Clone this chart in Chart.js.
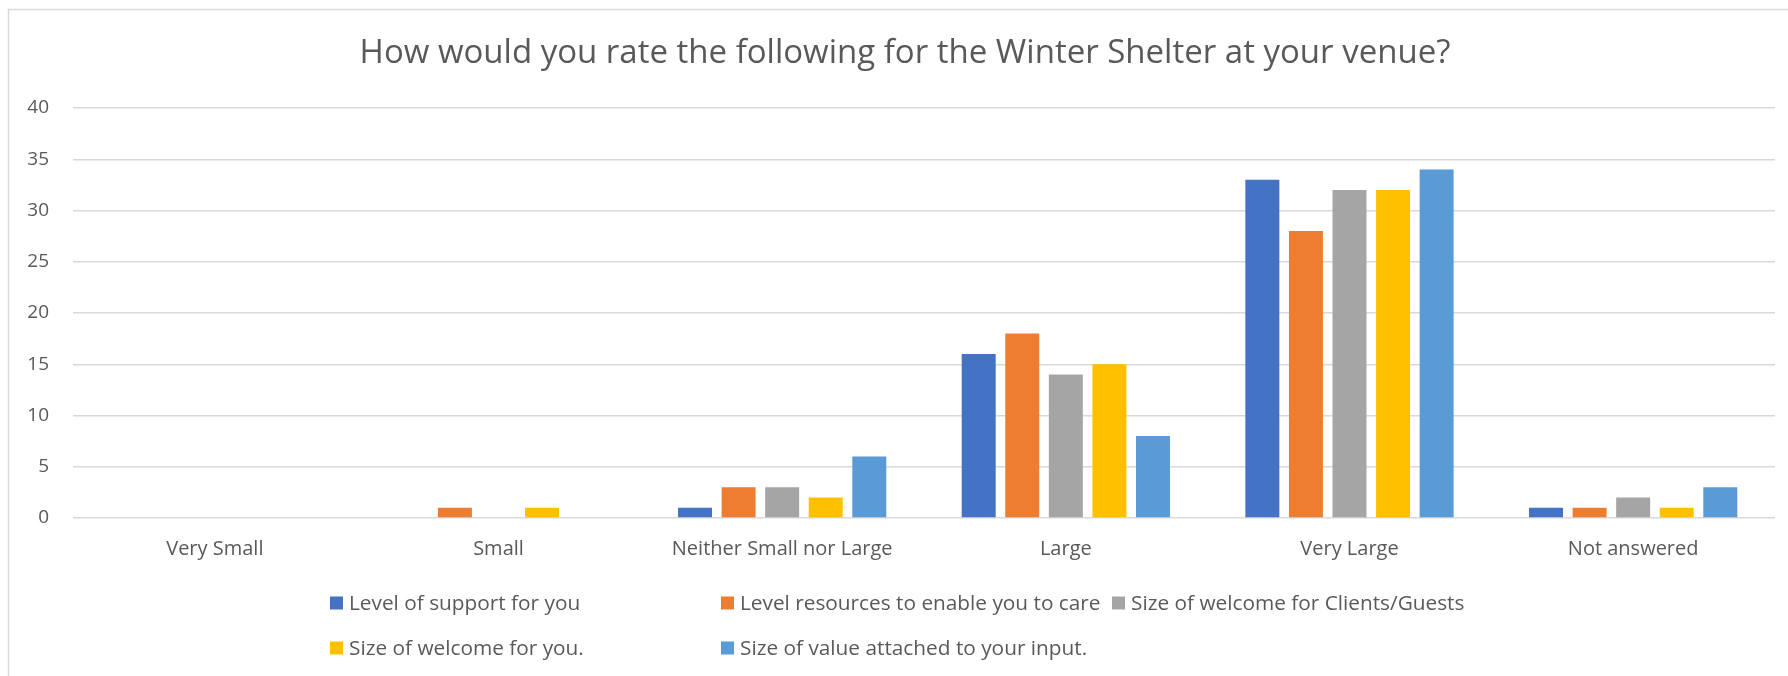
<!DOCTYPE html>
<html>
<head>
<meta charset="utf-8">
<script src="https://cdn.jsdelivr.net/npm/chart.js@4.4.1/dist/chart.umd.min.js"></script>
<style>
  html, body { margin: 0; padding: 0; background: #fff; }
  #wrap { width: 1788px; height: 676px; position: relative; }
</style>
</head>
<body>
<div id="wrap"><canvas id="chart" width="1788" height="676"></canvas></div>
<script>
// ===== Data =====
const chartTitle = 'How would you rate the following for the Winter Shelter at your venue?';
const categories = ['Very Small', 'Small', 'Neither Small nor Large', 'Large', 'Very Large', 'Not answered'];

const seriesNames = [
  'Level of support for you',
  'Level resources to enable you to care',
  'Size of welcome for Clients/Guests',
  'Size of welcome for you.',
  'Size of value attached to your input.'
];
const seriesColors = ['#4472C4', '#ED7D31', '#A5A5A5', '#FFC000', '#5B9BD5'];

const supportForYou   = [0, 0, 1, 16, 33, 1];
const resourcesToCare = [0, 1, 3, 18, 28, 1];
const welcomeClients  = [0, 0, 3, 14, 32, 2];
const welcomeForYou   = [0, 1, 2, 15, 32, 1];
const valueOfInput    = [0, 0, 6, 8, 34, 3];

const yTicks = { min: 0, max: 40, step: 5 };

const textColor = '#595959';
const gridColor = '#D9D9D9';
const fontFamily = "'Open Sans', sans-serif";

// ===== Title, frame and Excel-like grid legend =====
const excelDecor = {
  id: 'excelDecor',
  afterDraw(chart) {
    const ctx = chart.ctx;
    ctx.save();

    // outer frame (left and top edges visible)
    ctx.strokeStyle = gridColor;
    ctx.lineWidth = 1.5;
    ctx.beginPath();
    ctx.moveTo(8.5, chart.height);
    ctx.lineTo(8.5, 9.5);
    ctx.lineTo(chart.width, 9.5);
    ctx.stroke();

    // title
    ctx.fillStyle = textColor;
    ctx.font = '33px ' + fontFamily;
    ctx.textAlign = 'center';
    ctx.textBaseline = 'middle';
    ctx.fillText(chartTitle, 905, 54);

    // legend in columns
    const legendLeft = 330, colWidth = 391, cols = 3, rowTop = 603, rowGap = 45, box = 13;
    ctx.font = '20.8px ' + fontFamily;
    ctx.textAlign = 'left';
    chart.data.datasets.forEach((ds, i) => {
      const x = legendLeft + (i % cols) * colWidth;
      const y = rowTop + Math.floor(i / cols) * rowGap;
      ctx.fillStyle = ds.backgroundColor;
      ctx.fillRect(x, y - box / 2, box, box);
      ctx.fillStyle = textColor;
      ctx.fillText(ds.label, x + 19, y + 1);
    });

    ctx.restore();
  }
};

// ===== Create Chart =====
const seriesValues = [supportForYou, resourcesToCare, welcomeClients, welcomeForYou, valueOfInput];

const datasets = seriesNames.map((name, i) => ({
  label: name,
  data: seriesValues[i],
  backgroundColor: seriesColors[i],
  borderWidth: 0,
  categoryPercentage: 0.768,
  barPercentage: 0.78
}));

new Chart(document.getElementById('chart'), {
  type: 'bar',
  data: { labels: categories, datasets },
  options: {
    responsive: false,
    animation: false,
    layout: { padding: { top: 108, left: 0, right: 13, bottom: 98 } },
    plugins: {
      legend: { display: false },
      title: { display: false },
      tooltip: { enabled: false }
    },
    scales: {
      x: {
        grid: { display: false, drawTicks: false },
        border: { display: false },
        ticks: { color: textColor, font: { family: fontFamily, size: 20 }, padding: 19, maxRotation: 0 },
        afterFit(scale) { scale.height = 60; }
      },
      y: {
        min: yTicks.min,
        max: yTicks.max,
        grid: { color: gridColor, lineWidth: 1.5, drawTicks: false },
        border: { display: false },
        ticks: { stepSize: yTicks.step, color: textColor, font: { family: fontFamily, size: 19 }, padding: 24 },
        afterFit(scale) { scale.width = 73; }
      }
    }
  },
  plugins: [excelDecor]
});
</script>
</body>
</html>
